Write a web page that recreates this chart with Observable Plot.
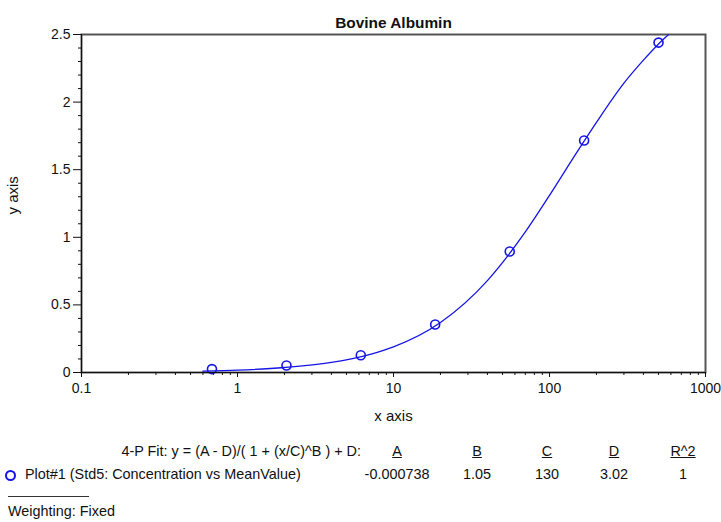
<!DOCTYPE html>
<html>
<head>
<meta charset="utf-8">
<script src="https://cdn.jsdelivr.net/npm/d3@7"></script>
<script src="https://cdn.jsdelivr.net/npm/@observablehq/plot@0.6"></script>
<style>
  body { margin: 0; background: #fff; font-family: "Liberation Sans", Arial, sans-serif; }
  #wrap { position: relative; width: 721px; height: 522px; }
  .t { position: absolute; font-size: 14.4px; color: #111; white-space: nowrap; }
  .c { transform: translateX(-50%); }
  .u { text-decoration: underline; }
</style>
</head>
<body>
<div id="wrap">
  <div id="chart"></div>
</div>
<script>
// Measured standards (concentration vs mean value)
const concentration = [0.686, 2.06, 6.17, 18.5, 55.6, 166.7, 500];
const meanValue = [0.025, 0.052, 0.128, 0.355, 0.895, 1.716, 2.44];
// Fitted curve
const curveX = [0.6, 1, 2, 4, 7, 10, 20, 40, 70, 100, 150, 200, 300, 400, 500, 580];
const curveY = [0.01, 0.017, 0.037, 0.075, 0.133, 0.19, 0.37, 0.68, 1.04, 1.31, 1.63, 1.85, 2.14, 2.31, 2.43, 2.5];
// Axis ticks
const xMajor = [0.1, 1, 10, 100, 1000];
const xMinor = [2,3,4,5,6,7,8,9].flatMap(m => [0.1, 1, 10, 100].map(d => m * d));
const yMajor = [0, 0.5, 1, 1.5, 2, 2.5];
const yMinor = [0.1,0.2,0.3,0.4,0.6,0.7,0.8,0.9,1.1,1.2,1.3,1.4,1.6,1.7,1.8,1.9,2.1,2.2,2.3,2.4];
// Fit table
const fitHeaders = ["A", "B", "C", "D", "R^2"];
const fitValues = ["-0.000738", "1.05", "130", "3.02", "1"];
const title = "Bovine Albumin";

const points = concentration.map((x, i) => ({x, y: meanValue[i]}));
const curve = curveX.map((x, i) => ({x, y: curveY[i]}));
const blue = "#1414e6";

const plot = Plot.plot({
  width: 721,
  height: 432,
  marginTop: 34,
  marginLeft: 81,
  marginRight: 16,
  marginBottom: 60,
  style: {fontFamily: '"Liberation Sans", Arial, sans-serif', fontSize: "14px", color: "#111"},
  x: {type: "log", domain: [0.1, 1000]},
  y: {domain: [0, 2.5]},
  marks: [
    Plot.frame({stroke: "#555", strokeWidth: 2}),
    Plot.line(curve, {x: "x", y: "y", stroke: blue, strokeWidth: 1.3, curve: "monotone-x", clip: true}),
    Plot.dot(points, {x: "x", y: "y", r: 4.5, stroke: blue, strokeWidth: 1.6, fill: "none"}),
    Plot.ruleY([0], {stroke: "#111"}),
    Plot.ruleX([0.1], {stroke: "#111"}),
    Plot.axisX(xMajor, {tickSize: 5, tickFormat: d => String(d), tickPadding: 6, label: null, fontSize: 14}),
    Plot.axisX(xMinor, {tickSize: 3, tickFormat: () => "", label: null}),
    Plot.axisY(yMajor, {tickSize: 8, tickPadding: 3, tickFormat: d => String(d), label: null, fontSize: 14}),
    Plot.axisY(yMinor, {tickSize: 3, tickFormat: () => "", label: null}),
    Plot.text([title], {frameAnchor: "top", dy: -17, fontWeight: "bold", fontSize: 15.4}),
    Plot.text(["x axis"], {frameAnchor: "bottom", dy: 48, fontSize: 15}),
    Plot.text(["y axis"], {frameAnchor: "left", dx: -68, dy: 11, rotate: -90, fontSize: 15})
  ]
});
document.getElementById("chart").appendChild(plot);

// Fit table below the chart
const wrap = document.getElementById("wrap");
function addText(txt, left, top, cls) {
  const d = document.createElement("div");
  d.className = "t " + (cls || "");
  d.textContent = txt;
  d.style.left = left + "px";
  d.style.top = top + "px";
  wrap.appendChild(d);
  return d;
}
const colX = [397, 477, 547, 614, 683];
const fitLabel = addText("4-P Fit: y = (A - D)/( 1 + (x/C)^B ) + D:", 0, 443);
fitLabel.style.left = "auto";
fitLabel.style.right = (721 - 361) + "px";
fitHeaders.forEach((h, i) => addText(h, colX[i], 443, "c u"));
fitValues.forEach((v, i) => addText(v, colX[i], 466, "c"));
const marker = document.createElement("div");
Object.assign(marker.style, {position: "absolute", left: "5px", top: "470px", width: "7px", height: "7px", border: "2px solid " + blue, borderRadius: "50%"});
wrap.appendChild(marker);
addText("Plot#1 (Std5: Concentration vs MeanValue)", 25, 466);
const line = document.createElement("div");
Object.assign(line.style, {position: "absolute", left: "8px", top: "496px", width: "81px", height: "0", borderTop: "1.3px solid #333"});
wrap.appendChild(line);
addText("Weighting: Fixed", 8, 503);
</script>
</body>
</html>
